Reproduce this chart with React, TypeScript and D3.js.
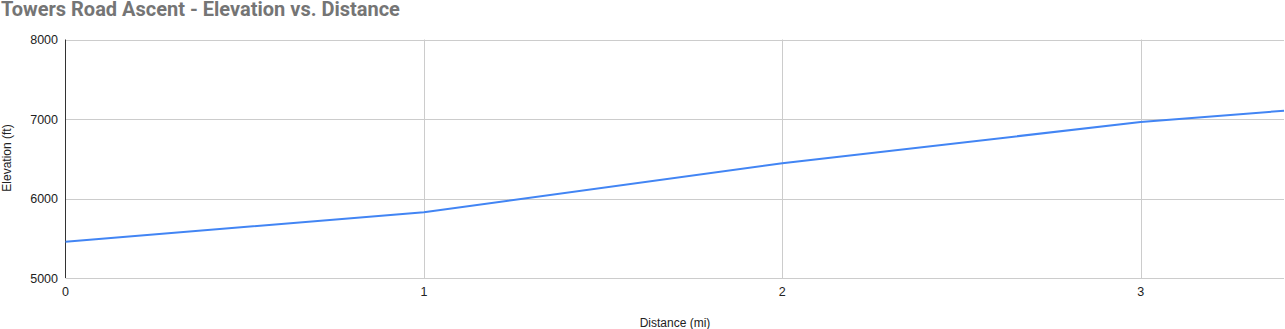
import React from "react";
import * as d3 from "d3";

const distances = [0, 1, 2, 3, 3.4];
const elevations = [5455, 5828, 6443, 6962, 7104];
const xTicks = [0, 1, 2, 3];
const yTicks = [5000, 6000, 7000, 8000];

const W = 1285;
const H = 329;
const left = 65.5;
const right = 1284;
const top = 39.5;
const bottom = 278;

export default function App() {
  const x = d3.scaleLinear().domain([0, 3.4]).range([left, right]);
  const y = d3.scaleLinear().domain([5000, 8000]).range([bottom, top]);
  const pts = distances.map((d, i) => [d, elevations[i]] as [number, number]);
  const line = d3.line<[number, number]>().x(d => x(d[0])).y(d => y(d[1]));
  const font = "Arial, 'Liberation Sans', sans-serif";
  return (
    <svg width={W} height={H} style={{ position: "absolute", left: 0, top: 0 }}>
      <rect width={W} height={H} fill="#fff" />
      <text x={1} y={16} fontFamily="Roboto, sans-serif" fontWeight="bold" fontSize={20} fill="#757575">
        Towers Road Ascent - Elevation vs. Distance
      </text>
      {yTicks.map(t => (
        <g key={"y" + t}>
          <line x1={left} x2={right} y1={Math.round(y(t)) + 0.5} y2={Math.round(y(t)) + 0.5} stroke="#cccccc" strokeWidth={1} />
          <text x={58} y={y(t) + 4.5} textAnchor="end" fontFamily={font} fontSize={12.5} fill="#222">{t}</text>
        </g>
      ))}
      {xTicks.map(t => (
        <g key={"x" + t}>
          {t !== 0 && (
            <line x1={Math.round(x(t)) + 0.5} x2={Math.round(x(t)) + 0.5} y1={top} y2={bottom} stroke="#cccccc" strokeWidth={1} />
          )}
          <text x={x(t)} y={296} textAnchor="middle" fontFamily={font} fontSize={12.5} fill="#222">{t}</text>
        </g>
      ))}
      <line x1={65.5} x2={65.5} y1={top} y2={bottom} stroke="#333" strokeWidth={1} />
      <path d={line(pts) || ""} fill="none" stroke="#4285f4" strokeWidth={2} />
      <text x={675} y={327} textAnchor="middle" fontFamily={font} fontSize={12} fill="#222">Distance (mi)</text>
      <text transform={`translate(11,158) rotate(-90)`} textAnchor="middle" fontFamily={font} fontSize={12} fill="#222">Elevation (ft)</text>
    </svg>
  );
}
